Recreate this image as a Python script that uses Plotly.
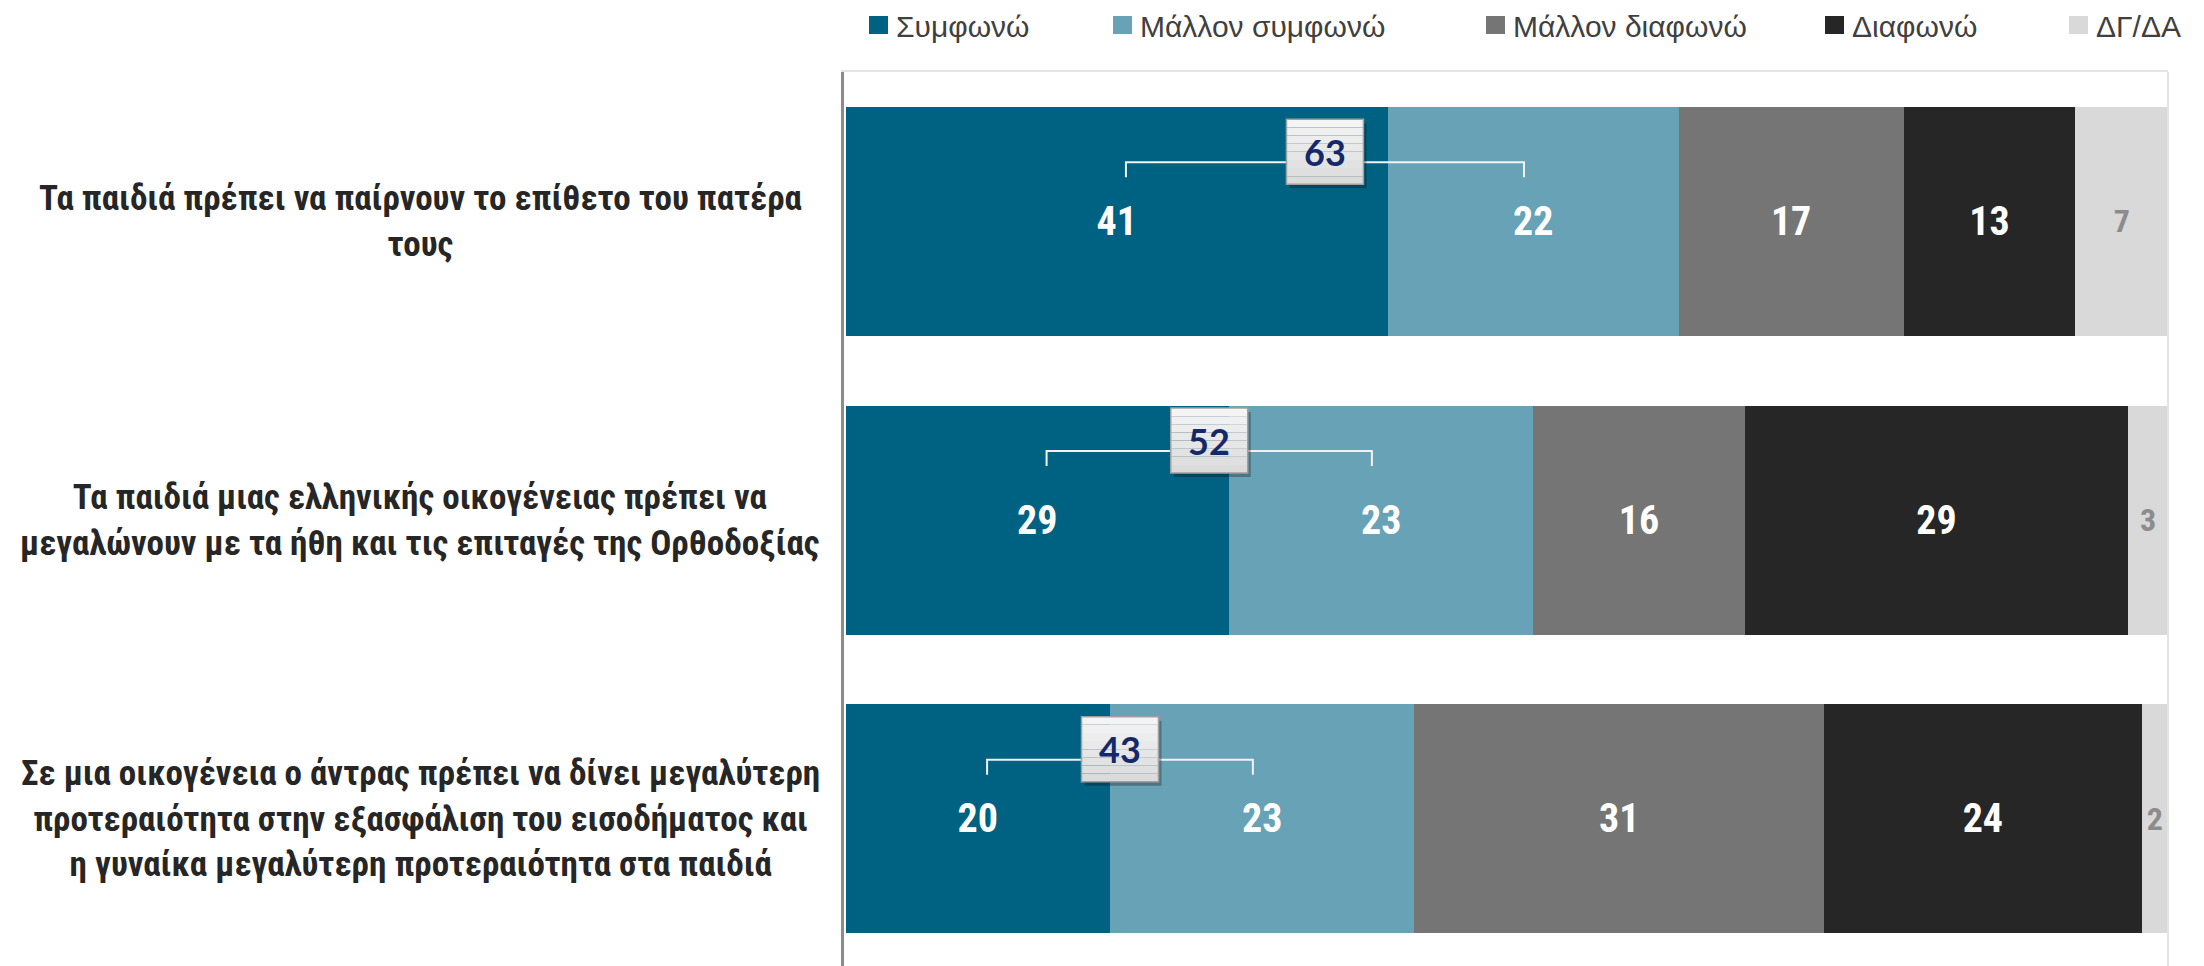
import plotly.graph_objects as go

# ---------------- data ----------------
categories = [
    "Τα παιδιά πρέπει να παίρνουν το επίθετο του πατέρα<br>τους",
    "Τα παιδιά μιας ελληνικής οικογένειας πρέπει να<br>μεγαλώνουν με τα ήθη και τις επιταγές της Ορθοδοξίας",
    "Σε μια οικογένεια ο άντρας πρέπει να δίνει μεγαλύτερη<br>προτεραιότητα στην εξασφάλιση του εισοδήματος και<br>η γυναίκα μεγαλύτερη προτεραιότητα στα παιδιά",
]
series_names = ["Συμφωνώ", "Μάλλον συμφωνώ", "Μάλλον διαφωνώ", "Διαφωνώ", "ΔΓ/ΔΑ"]
agree = [41, 29, 20]
rather_agree = [22, 23, 23]
rather_disagree = [17, 16, 31]
disagree = [13, 29, 24]
dkna = [7, 3, 2]
agree_total = [63, 52, 43]

series_values = [agree, rather_agree, rather_disagree, disagree, dkna]
colors = ["#006283", "#68a2b6", "#757575", "#262626", "#d9d9d9"]
text_colors = ["#ffffff", "#ffffff", "#ffffff", "#ffffff", "#8c8c8c"]

# ---------------- geometry ----------------
W, H = 2204, 966
ML, MR, MT, MB = 844, 36, 72, 0
PW, PH = W - ML - MR, H - MT - MB
XR = [-0.12, 100.0]
YR = [2.493, -0.5]
px_per_x = PW / (XR[1] - XR[0])
px_per_y = PH / (YR[0] - YR[1])

def paper_x(px):
    return (px - ML) / PW

def paper_y(py):
    return 1 - (py - MT) / PH

NARROW = "Liberation Sans Narrow, Arial Narrow, Roboto Condensed, Liberation Sans, Arial, sans-serif"

fig = go.Figure()
for name, vals, col, tcol in zip(series_names, series_values, colors, text_colors):
    fig.add_trace(go.Bar(
        y=categories, x=vals, name=name, orientation="h",
        marker=dict(color=col, line=dict(width=0)),
        width=0.767,
        text=[str(v) for v in vals],
        textposition="inside", insidetextanchor="middle",
        constraintext="none",
        textfont=dict(family=NARROW, size=40 if tcol == "#ffffff" else 32, color=tcol,
                      weight="bold"),
        hoverinfo="skip", showlegend=False,
    ))

shapes = []
annotations = []

# category labels
for cat in categories:
    annotations.append(dict(
        xref="paper", yref="y", x=paper_x(420), y=cat, text=cat,
        showarrow=False, xanchor="center", yanchor="middle", align="center",
        font=dict(family=NARROW, size=35, color="#262626", weight="bold"),
    ))

# callouts (bracket + box with sum of agree)
shift_px = [0, -10, 0]
box_w_px, box_h_px = 77, 65
for i, cat in enumerate(categories):
    c1 = agree[i] / 2
    c2 = agree[i] + rather_agree[i] / 2
    mid = (c1 + c2) / 2
    inset = 0.7
    yb = i + (-59 + shift_px[i]) / px_per_y
    yt = i + (-44 + shift_px[i]) / px_per_y
    shapes.append(dict(type="path", xref="x", yref="y",
                       path=f"M {c1+inset},{yt} L {c1+inset},{yb} L {c2-inset},{yb} L {c2-inset},{yt}",
                       line=dict(color="#f2f2f2", width=2)))
    bx0 = mid - box_w_px / 2 / px_per_x
    bx1 = mid + box_w_px / 2 / px_per_x
    by0 = i + (-102 + shift_px[i]) / px_per_y
    by1 = i + (-102 + box_h_px + shift_px[i]) / px_per_y
    # shadow
    sx = 3 / px_per_x
    sy = 4 / px_per_y
    shapes.append(dict(type="rect", xref="x", yref="y", x0=bx0 + sx, x1=bx1 + sx,
                       y0=by0 + sy, y1=by1 + sy, fillcolor="rgba(0,0,0,0.28)",
                       line=dict(width=0)))
    # gradient bands
    nb = 8
    for k in range(nb):
        t = k / (nb - 1)
        g = int(round(0xf4 + (0xdb - 0xf4) * t))
        col = f"rgb({g},{g},{g})"
        ya = by0 + (by1 - by0) * k / nb
        yb2 = by0 + (by1 - by0) * (k + 1) / nb
        shapes.append(dict(type="rect", xref="x", yref="y", x0=bx0, x1=bx1,
                           y0=ya, y1=yb2, fillcolor=col, line=dict(width=0)))
    shapes.append(dict(type="rect", xref="x", yref="y", x0=bx0, x1=bx1,
                       y0=by0, y1=by1, fillcolor="rgba(0,0,0,0)",
                       line=dict(color="#a0a0a0", width=1.5)))
    annotations.append(dict(
        xref="x", yref="y", x=mid, y=(by0 + by1) / 2, text=str(agree_total[i]),
        showarrow=False, xanchor="center", yanchor="middle",
        font=dict(family="Lato, Open Sans, sans-serif", size=36, color="#13296a",
                  weight="bold"),
    ))

# custom legend
legend_px = [869, 1113, 1486, 1825, 2069]
for name, col, lx in zip(series_names, colors, legend_px):
    shapes.append(dict(type="rect", xref="paper", yref="paper",
                       x0=paper_x(lx), x1=paper_x(lx + 19),
                       y0=paper_y(34), y1=paper_y(16),
                       fillcolor=col, line=dict(width=0)))
    annotations.append(dict(
        xref="paper", yref="paper", x=paper_x(lx + 25), y=paper_y(27), text=name,
        showarrow=False, xanchor="left", yanchor="middle",
        font=dict(family="Liberation Sans, Arial, sans-serif", size=30, color="#404040"),
    ))

# right frame line
shapes.append(dict(type="line", xref="paper", yref="paper", x0=1, x1=1, y0=0, y1=1,
                   line=dict(color="#e4e4e4", width=2)))

fig.update_layout(
    width=W, height=H,
    margin=dict(l=ML, r=MR, t=MT, b=MB, pad=0),
    barmode="stack",
    plot_bgcolor="white", paper_bgcolor="white",
    xaxis=dict(range=XR, showgrid=False, zeroline=False, showticklabels=False,
               ticks="", showline=True, mirror=True, linecolor="#e4e4e4", linewidth=2),
    yaxis=dict(range=YR, categoryorder="array", categoryarray=categories,
               showgrid=False, zeroline=False, showticklabels=False, ticks="",
               showline=True, linecolor="#8c8c8c", linewidth=2.5),
    shapes=shapes, annotations=annotations,
    showlegend=False,
)

fig.write_html("out.html",
               config={"displayModeBar": False},
               post_script="document.body.style.margin='0px';document.body.style.overflow='hidden';")
